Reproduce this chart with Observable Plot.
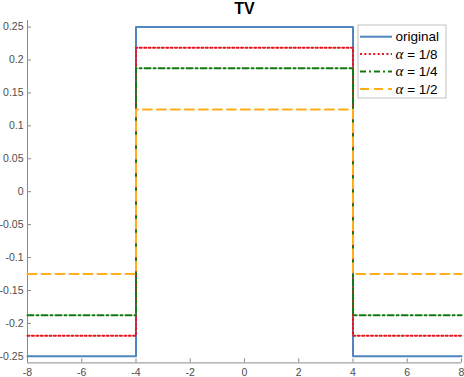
<!DOCTYPE html>
<html>
<head>
<meta charset="utf-8">
<script src="https://cdn.jsdelivr.net/npm/d3@7"></script>
<script src="https://cdn.jsdelivr.net/npm/@observablehq/plot@0.6"></script>
<style>
  body { margin: 0; background: #fff; }
  #chart { position: relative; width: 464px; height: 377px; }
  #chart svg { font-family: "Liberation Sans", Arial, sans-serif; }
</style>
</head>
<body>
<div id="chart"></div>
<script>
// Data
const breakpoints = [-8, -4, 4, 8];
const seriesNames = ["original", "α = 1/8", "α = 1/4", "α = 1/2"];
const amplitudes = [0.25, 0.21875, 0.1875, 0.125];
const seriesColors = ["#4f86c0", "#e8141c", "#137a13", "#ffae1a"];
const seriesDash = ["none", "2,2.4", "6,3,2,3", "9,5"];
const xTicks = [-8, -6, -4, -2, 0, 2, 4, 6, 8];
const yTicks = [-0.25, -0.2, -0.15, -0.1, -0.05, 0, 0.05, 0.1, 0.15, 0.2, 0.25];
const title = "TV";

// step profile: -a outside [-4,4], +a inside
const rows = [];
seriesNames.forEach((name, i) => {
  const a = amplitudes[i];
  const ys = [-a, a, -a, -a];
  breakpoints.forEach((x, j) => rows.push({series: name, x, y: ys[j]}));
});

const fmt = d => String(+d.toFixed(2));

const marks = [
  Plot.ruleX([-8], {stroke: "#8a8a8a", strokeWidth: 1}),
  Plot.ruleY([-0.26], {stroke: "#8a8a8a", strokeWidth: 1}),
  Plot.axisY(yTicks, {label: null, tickSize: -4, tickPadding: 8, tickFormat: fmt, fontSize: 10.5, color: "#4d4d4d", stroke: "#8a8a8a"}),
  Plot.axisX(xTicks, {label: null, tickSize: -4, tickPadding: 10, tickFormat: fmt, fontSize: 10.5, color: "#4d4d4d", stroke: "#8a8a8a"})
];
seriesNames.forEach((name, i) => {
  marks.push(Plot.line(rows.filter(r => r.series === name), {
    x: "x", y: "y", curve: "step-after",
    stroke: seriesColors[i], strokeWidth: 2,
    strokeDasharray: seriesDash[i] === "none" ? null : seriesDash[i]
  }));
});
marks.push(Plot.text([title], {frameAnchor: "top", dy: -12, lineAnchor: "middle", fontSize: 16, fontWeight: "bold", fill: "#000"}));

const svg = Plot.plot({
  width: 464,
  height: 377,
  marginLeft: 27,
  marginRight: 3,
  marginTop: 20,
  marginBottom: 14.6,
  x: {domain: [-8, 8], label: null},
  y: {domain: [-0.26, 0.26], label: null},
  style: {background: "#fff", overflow: "visible"},
  marks
});

// Legend
const s = d3.select(svg);
const g = s.append("g").attr("transform", "translate(358,25)").attr("text-anchor", "start");
g.append("rect").attr("width", 88).attr("height", 73)
  .attr("fill", "#fff").attr("stroke", "#c2c2c2").attr("stroke-width", 1);
seriesNames.forEach((name, i) => {
  const y = 11.7 + i * 17.4;
  g.append("line").attr("x1", 2).attr("x2", 34).attr("y1", y).attr("y2", y)
    .attr("stroke", seriesColors[i]).attr("stroke-width", 2)
    .attr("stroke-dasharray", seriesDash[i] === "none" ? null : seriesDash[i]);
  const t = g.append("text").attr("x", 37.5).attr("y", y).attr("dy", "0.35em")
    .attr("text-anchor", "start")
    .attr("font-size", 13.5).attr("fill", "#000");
  if (name.startsWith("α")) {
    t.append("tspan").attr("font-family", "'Liberation Serif', 'DejaVu Serif', serif")
      .attr("font-style", "italic").attr("font-size", 15).text("α");
    t.append("tspan").text(name.slice(1));
  } else {
    t.text(name);
  }
});

document.getElementById("chart").appendChild(svg);
</script>
</body>
</html>
